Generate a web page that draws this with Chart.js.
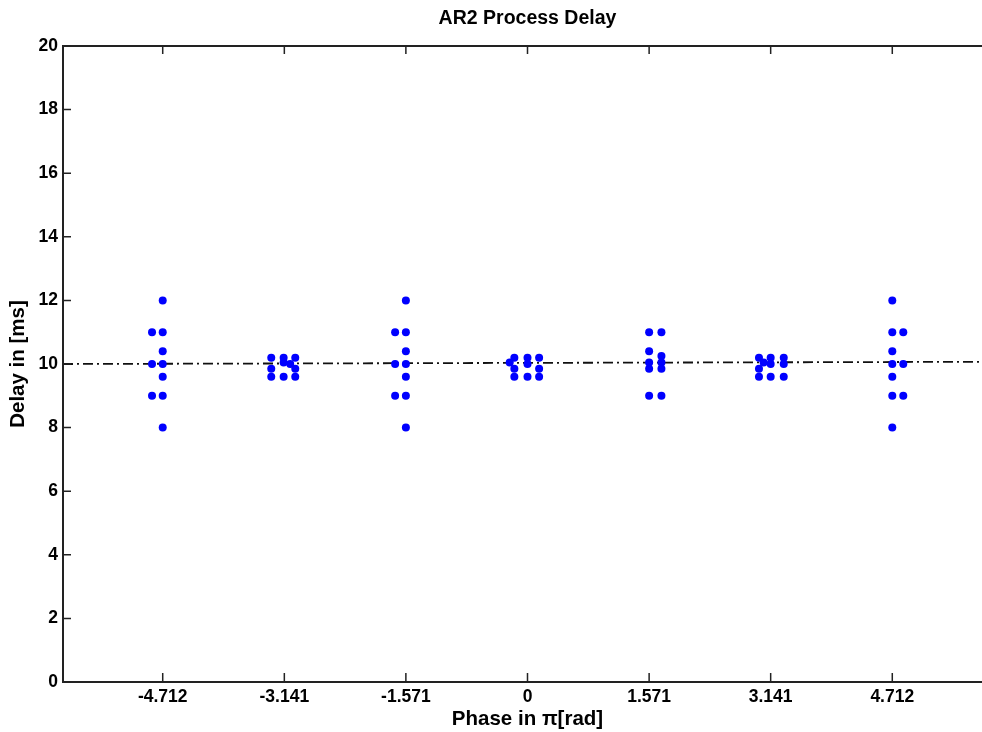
<!DOCTYPE html>
<html>
<head>
<meta charset="utf-8">
<script src="https://cdn.jsdelivr.net/npm/chart.js@4/dist/chart.umd.min.js"></script>
<style>
  html, body { margin: 0; padding: 0; background: #fff; overflow: hidden; }
  #wrap { width: 982px; height: 732px; overflow: hidden; }
  #wrap div { width: 996px; height: 732px; }
</style>
</head>
<body>
<div id="wrap"><div><canvas id="myChart" width="996" height="732"></canvas></div></div>
<script>
// x ticks (phase) and labels
var phases = [-4.712, -3.141, -1.571, 0, 1.571, 3.141, 4.712];
var tickLabels = ["-4.712", "-3.141", "-1.571", "0", "1.571", "3.141", "4.712"];
var delayTicks = [0, 2, 4, 6, 8, 10, 12, 14, 16, 18, 20];

// delay points, one pair of arrays per phase group
var g1X = [-4.712, -4.712, -4.712, -4.712, -4.712, -4.712, -4.712, -4.85, -4.85, -4.85];
var g1Y = [12, 11, 10.4, 10, 9.6, 9, 8, 11, 10, 9];
var g2X = [-3.31, -3.31, -3.31, -3.15, -3.15, -3.15, -3.0, -3.0, -3.0, -3.065];
var g2Y = [10.2, 9.85, 9.6, 10.2, 10.05, 9.6, 10.2, 9.85, 9.6, 10.0];
var g3X = [-1.571, -1.571, -1.571, -1.571, -1.571, -1.571, -1.571, -1.71, -1.71, -1.71];
var g3Y = [12, 11, 10.4, 10, 9.6, 9, 8, 11, 10, 9];
var g4X = [-0.17, -0.17, -0.17, 0, 0, 0, 0.15, 0.15, 0.15, -0.23];
var g4Y = [10.2, 9.85, 9.6, 10.2, 10.0, 9.6, 10.2, 9.85, 9.6, 10.05];
var g5X = [1.571, 1.571, 1.571, 1.571, 1.571, 1.73, 1.73, 1.73, 1.73, 1.73];
var g5Y = [11, 10.4, 10.05, 9.85, 9, 11, 10.25, 10.05, 9.85, 9];
var g6X = [2.99, 2.99, 2.99, 3.141, 3.141, 3.141, 3.31, 3.31, 3.31, 3.05];
var g6Y = [10.2, 9.85, 9.6, 10.2, 10.0, 9.6, 10.2, 10.0, 9.6, 10.05];
var g7X = [4.712, 4.712, 4.712, 4.712, 4.712, 4.712, 4.712, 4.854, 4.854, 4.854];
var g7Y = [12, 11, 10.4, 10, 9.6, 9, 8, 11, 10, 9];

// mean delay line
var meanX = [-6, 6];
var meanY = [10, 10.07];

var allX = [g1X, g2X, g3X, g4X, g5X, g6X, g7X];
var allY = [g1Y, g2Y, g3Y, g4Y, g5Y, g6Y, g7Y];
var points = [];
for (var g = 0; g < allX.length; g++) {
  for (var i = 0; i < allX[g].length; i++) {
    points.push({x: allX[g][i], y: allY[g][i]});
  }
}
var meanPts = meanX.map(function (v, i) { return {x: v, y: meanY[i]}; });

var FONT = "'Liberation Sans', Arial, sans-serif";

// box, inward ticks and title, MATLAB style
var frame = {
  id: "frame",
  afterDatasetsDraw: function (chart) {
    var ctx = chart.ctx, a = chart.chartArea;
    var xs = chart.scales.x, ys = chart.scales.y;
    ctx.save();
    ctx.strokeStyle = "#222";
    ctx.lineWidth = 2;
    ctx.strokeRect(a.left, a.top, a.right - a.left, a.bottom - a.top);
    ctx.lineWidth = 1.5;
    ctx.beginPath();
    phases.forEach(function (p) {
      var px = xs.getPixelForValue(p);
      ctx.moveTo(px, a.bottom); ctx.lineTo(px, a.bottom - 9);
      ctx.moveTo(px, a.top); ctx.lineTo(px, a.top + 8);
    });
    delayTicks.forEach(function (d) {
      var py = ys.getPixelForValue(d);
      ctx.moveTo(a.left, py); ctx.lineTo(a.left + 8, py);
      ctx.moveTo(a.right, py); ctx.lineTo(a.right - 8, py);
    });
    ctx.stroke();
    ctx.fillStyle = "#000";
    ctx.font = "bold 19.5px " + FONT;
    ctx.textAlign = "center";
    ctx.textBaseline = "middle";
    ctx.fillText("AR2 Process Delay", (a.left + a.right) / 2, 19);
    ctx.restore();
  }
};

new Chart("myChart", {
  type: "scatter",
  data: {
    datasets: [{
      data: points,
      backgroundColor: "#0000ff",
      borderWidth: 0,
      pointRadius: 4
    }, {
      type: "line",
      data: meanPts,
      borderColor: "#111",
      borderWidth: 1.8,
      borderDash: [10, 4, 2, 4],
      pointRadius: 0,
      fill: false
    }]
  },
  options: {
    responsive: false,
    animation: false,
    layout: {padding: {left: 6, top: 46, right: 3, bottom: 0}},
    plugins: {legend: {display: false}, tooltip: {enabled: false}},
    scales: {
      x: {
        type: "linear",
        min: -6, max: 6,
        grid: {display: false, drawTicks: false},
        border: {display: false},
        afterBuildTicks: function (s) { s.ticks = phases.map(function (v) { return {value: v}; }); },
        afterFit: function (s) { s.height = 50; },
        ticks: {
          padding: 5,
          color: "#000",
          font: {family: FONT, size: 17.5, weight: "bold"},
          callback: function (v, i) { return tickLabels[i]; }
        },
        title: {
          display: true,
          text: "Phase in \u03c0[rad]",
          color: "#000",
          padding: 0,
          font: {family: FONT, size: 20.5, weight: "bold"}
        }
      },
      y: {
        min: 0, max: 20,
        grid: {display: false, drawTicks: false},
        border: {display: false},
        afterBuildTicks: function (s) { s.ticks = delayTicks.map(function (v) { return {value: v}; }); },
        afterFit: function (s) { s.width = 57; },
        ticks: {
          padding: 5,
          color: "#000",
          font: {family: FONT, size: 17.5, weight: "bold"}
        },
        title: {
          display: true,
          text: "Delay in [ms]",
          color: "#000",
          padding: 0,
          font: {family: FONT, size: 20.5, weight: "bold"}
        }
      }
    }
  },
  plugins: [frame]
});
</script>
</body>
</html>
